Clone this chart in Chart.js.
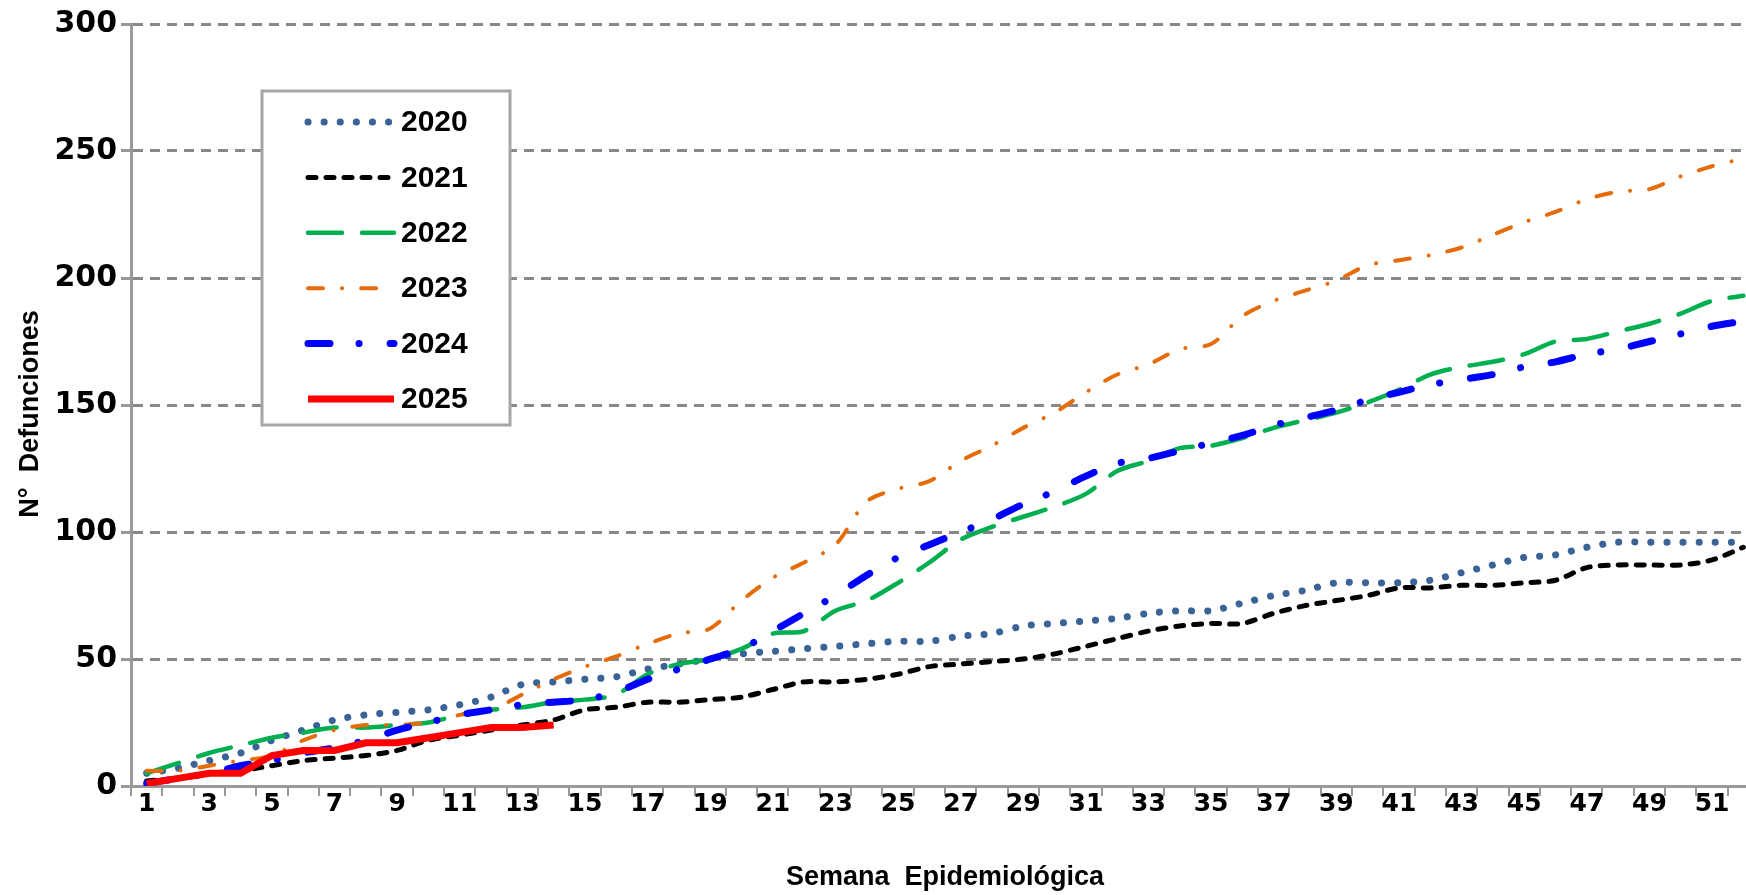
<!DOCTYPE html>
<html>
<head>
<meta charset="utf-8">
<script src="https://cdn.jsdelivr.net/npm/chart.js@4/dist/chart.umd.min.js"></script>
<style>
  html, body { margin: 0; padding: 0; background: #fff; overflow: hidden; }
  #wrap { width: 1760px; height: 895px; }
</style>
</head>
<body>
<div id="wrap"><canvas id="myChart"></canvas></div>
<script>
const semanas = ['1','2','3','4','5','6','7','8','9','10','11','12','13','14','15','16','17','18','19','20',
  '21','22','23','24','25','26','27','28','29','30','31','32','33','34','35','36','37','38','39','40',
  '41','42','43','44','45','46','47','48','49','50','51','52'];

const anios = ['2020', '2021', '2022', '2023', '2024', '2025'];

const def2020 = [5,7,10,13,18,22,26,28,29,30,32,35,40,41,42,43,46,48,50,52,53,54,55,56,57,57,
  59,60,63,64,65,66,68,69,69,72,75,77,80,80,80,81,84,87,90,91,94,96,96,96,96,96];
const def2021 = [2,3,5,6,8,10,11,12,14,18,20,22,24,26,30,31,33,33,34,35,38,41,41,42,44,47,
  48,49,50,52,55,58,61,63,64,64,68,71,73,75,78,78,79,79,80,81,86,87,87,87,89,94];
const def2022 = [5,9,13,16,19,21,23,23,24,25,28,30,31,33,34,36,44,48,50,54,60,61,69,73,80,88,
  97,102,106,110,115,124,128,133,134,137,141,144,147,151,156,162,165,167,170,175,176,179,182,186,191,193];
const def2023 = [6,6,8,10,12,18,22,24,24,25,28,30,36,42,47,51,56,60,62,73,82,88,95,112,117,120,
  128,134,141,147,155,162,166,172,174,185,191,195,199,205,207,209,212,217,222,226,231,234,235,240,244,247];
const def2024 = [1,3,5,8,10,13,15,18,22,25,28,30,32,33,34,37,42,46,50,54,61,68,75,83,90,95,
  100,105,111,116,122,127,129,132,135,138,142,145,148,152,155,158,160,162,165,167,170,172,175,178,181,183];
const def2025 = [1,3,5,5,12,14,14,17,17,19,21,23,23,24];

const ticksY = [0, 50, 100, 150, 200, 250, 300];
const tituloY = 'N°  Defunciones';

// cuadro de leyenda dentro del area del grafico + titulo del eje Y
const leyendaCaja = {
  id: 'leyendaCaja',
  afterDraw(chart) {
    const ctx = chart.ctx;
    ctx.save();
    ctx.fillStyle = '#fff';
    ctx.fillRect(262, 91, 248, 334);
    ctx.strokeStyle = '#A6A6A6';
    ctx.lineWidth = 3;
    ctx.strokeRect(262, 91, 248, 334);
    chart.data.datasets.forEach((ds, i) => {
      const y = 122 + i * 55.4;
      ctx.beginPath();
      ctx.strokeStyle = ds.borderColor;
      ctx.lineWidth = ds.borderWidth;
      ctx.lineCap = ds.borderCapStyle || 'butt';
      ctx.setLineDash(ds.borderDash || []);
      ctx.moveTo(308, y);
      ctx.lineTo(394, y);
      ctx.stroke();
      ctx.setLineDash([]);
      ctx.fillStyle = '#000';
      ctx.font = 'bold 30px "Liberation Sans", Arial, sans-serif';
      ctx.textBaseline = 'middle';
      ctx.fillText(ds.label, 401, y + 1);
    });

    // titulo vertical
    ctx.translate(31, 414);
    ctx.rotate(-Math.PI / 2);
    ctx.font = 'bold 27px "Liberation Sans", Arial, sans-serif';
    ctx.textAlign = 'center';
    ctx.textBaseline = 'middle';
    ctx.fillText(tituloY, 0, 0);
    ctx.restore();
  }
};

function createChart() {
  const ctx = document.getElementById('myChart').getContext('2d');

  new Chart(ctx, {
    type: 'line',
    data: {
      labels: semanas,
      datasets: [
        { label: anios[0], data: def2020, borderColor: '#3A6397', borderWidth: 7,
          borderDash: [0.1, 16], borderCapStyle: 'round', tension: 0.3, order: 6 },
        { label: anios[1], data: def2021, borderColor: '#000000', borderWidth: 5,
          borderDash: [8, 10], borderCapStyle: 'round', tension: 0.3, order: 5 },
        { label: anios[2], data: def2022, borderColor: '#00B050', borderWidth: 4.5,
          borderDash: [34, 20], borderCapStyle: 'round', tension: 0.3, order: 4 },
        { label: anios[3], data: def2023, borderColor: '#E46C0A', borderWidth: 4,
          borderDash: [15, 19, 0.1, 19], borderCapStyle: 'round', tension: 0.3, order: 3 },
        { label: anios[4], data: def2024, borderColor: '#0000FF', borderWidth: 7,
          borderDash: [22, 29, 0.1, 31], borderCapStyle: 'round', tension: 0.3, order: 2 },
        { label: anios[5], data: def2025, borderColor: '#FF0000', borderWidth: 7,
          borderCapStyle: 'butt', tension: 0, order: 1 }
      ]
    },
    options: {
      responsive: true,
      maintainAspectRatio: false,
      animation: false,
      elements: { point: { radius: 0, hoverRadius: 0 } },
      layout: { padding: { top: 24, right: 1, left: 0, bottom: 0 } },
      plugins: {
        legend: { display: false },
        tooltip: { enabled: false }
      },
      scales: {
        x: {
          offset: true,
          afterFit: function (scale) { scale.height = 109; },
          grid: {
            offset: true,
            drawOnChartArea: false,
            drawTicks: true,
            tickLength: 10,
            color: '#999999',
            lineWidth: 2
          },
          border: { display: true, color: '#999999', width: 3 },
          ticks: {
            autoSkip: false,
            maxRotation: 0,
            padding: -7,
            color: '#000',
            font: { family: '"DejaVu Sans", Verdana, sans-serif', size: 25, weight: 'bold' },
            callback: function (v, i) { return i % 2 === 0 ? semanas[i] : ''; }
          },
          title: {
            display: true,
            text: 'Semana  Epidemiológica',
            color: '#000',
            font: { family: '"Liberation Sans", Arial, sans-serif', size: 27, weight: 'bold' },
            padding: { top: 2, bottom: 1 }
          }
        },
        y: {
          min: 0,
          max: 300,
          afterFit: function (scale) { scale.width = 131; },
          afterBuildTicks: function (scale) { scale.ticks = ticksY.map(v => ({ value: v })); },
          grid: {
            color: '#888888',
            lineWidth: 3,
            drawTicks: true,
            tickLength: 10,
            tickColor: '#999999',
            tickWidth: 3,
            tickBorderDash: []
          },
          border: { display: true, color: '#999999', width: 3, dash: [10, 7] },
          ticks: {
            padding: 4,
            color: '#000',
            font: { family: '"DejaVu Sans", Verdana, sans-serif', size: 30, weight: 'bold' }
          },
          title: { display: false }
        }
      }
    },
    plugins: [leyendaCaja]
  });
}

window.onload = createChart;
</script>
</body>
</html>
